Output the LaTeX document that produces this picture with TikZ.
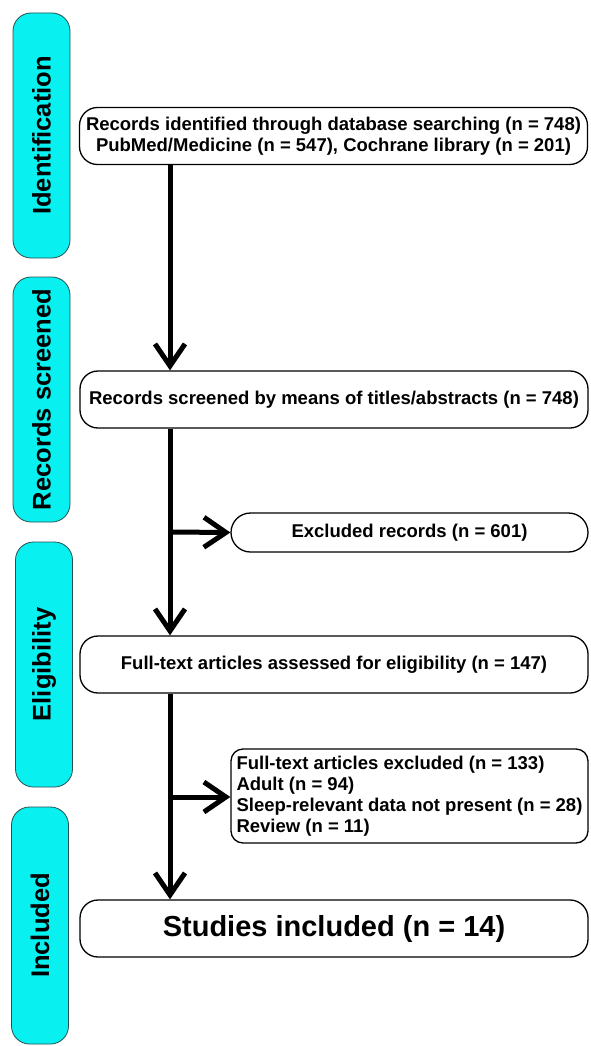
\documentclass[tikz,border=0pt]{standalone}
\usepackage{fontspec}
\setmainfont{Liberation Sans}
\usetikzlibrary{arrows.meta}
\definecolor{barcyan}{RGB}{8,240,240}
\definecolor{barline}{RGB}{40,80,80}
\begin{document}
\begin{tikzpicture}[x=1pt,y=-1pt,
  stagebar/.style={draw=barline, line width=0.8pt, fill=barcyan, rounded corners=18pt,
    rotate=90, minimum height=57pt, inner sep=0pt,
    font=\bfseries\fontsize{25.5}{28}\selectfont},
  flowbox/.style={draw=black, line width=1.3pt, fill=white, rounded corners=18pt,
    minimum width=508pt, minimum height=57pt, inner sep=0pt, align=center,
    font=\bfseries\fontsize{18.5}{21}\selectfont},
  exclbox/.style={draw=black, line width=1.3pt, fill=white,
    minimum width=357pt, inner sep=0pt,
    font=\bfseries\fontsize{18.5}{21}\selectfont},
  arr/.style={line width=5pt, -{Straight Barb[length=22pt,width=30pt,line width=5pt]}},
  feed/.style={line width=5pt}
]
\useasboundingbox (0,0) rectangle (590,1046);

% stage bars
\node[stagebar, minimum width=245pt] (sid) at (41.5,135.5) {Identification};
\node[stagebar, minimum width=245pt] (ssc) at (41.5,399.5) {Records screened};
\node[stagebar, minimum width=245pt] (sel) at (44,664.5) {Eligibility};
\node[stagebar, minimum width=237pt] (sin) at (40,925.5) {Included};

% flow boxes
\node[flowbox] (b1) at (333.5,136) {Records identified through database searching (n = 748)\\PubMed/Medicine (n = 547), Cochrane library (n = 201)};
\node[flowbox] (b2) at (334,399.5) {Records screened by means of titles/abstracts (n = 748)};
\node[exclbox, rounded corners=19.5pt, minimum height=39pt] (e1) at (409.5,532.5) {Excluded records (n = 601)};
\node[flowbox] (b3) at (334,664.5) {Full-text articles assessed for eligibility (n = 147)};
\node[exclbox, rounded corners=12pt, minimum height=94pt, align=left] (e2) at (409.5,796) {Full-text articles excluded (n = 133)\\Adult (n = 94)\\Sleep-relevant data not present (n = 28)\\Review (n = 11)};
\node[flowbox, font=\bfseries\fontsize{29}{32}\selectfont] (b4) at (334,928.5) {Studies included (n = 14)};

% spine
\coordinate (spine) at (170,0);
\coordinate (j1) at (170,532);
\coordinate (j2) at (170,797);

\draw[arr] (spine |- b1.south) -- (spine |- b2.north);
\draw[feed] (spine |- b2.south) -- (j1);
\draw[arr] (j1) -- (spine |- b3.north);
\draw[arr] (j1) -- (e1.west);
\draw[feed] (spine |- b3.south) -- (j2);
\draw[arr] (j2) -- (spine |- b4.north);
\draw[arr] (j2) -- (e2.west |- j2);
\end{tikzpicture}
\end{document}
